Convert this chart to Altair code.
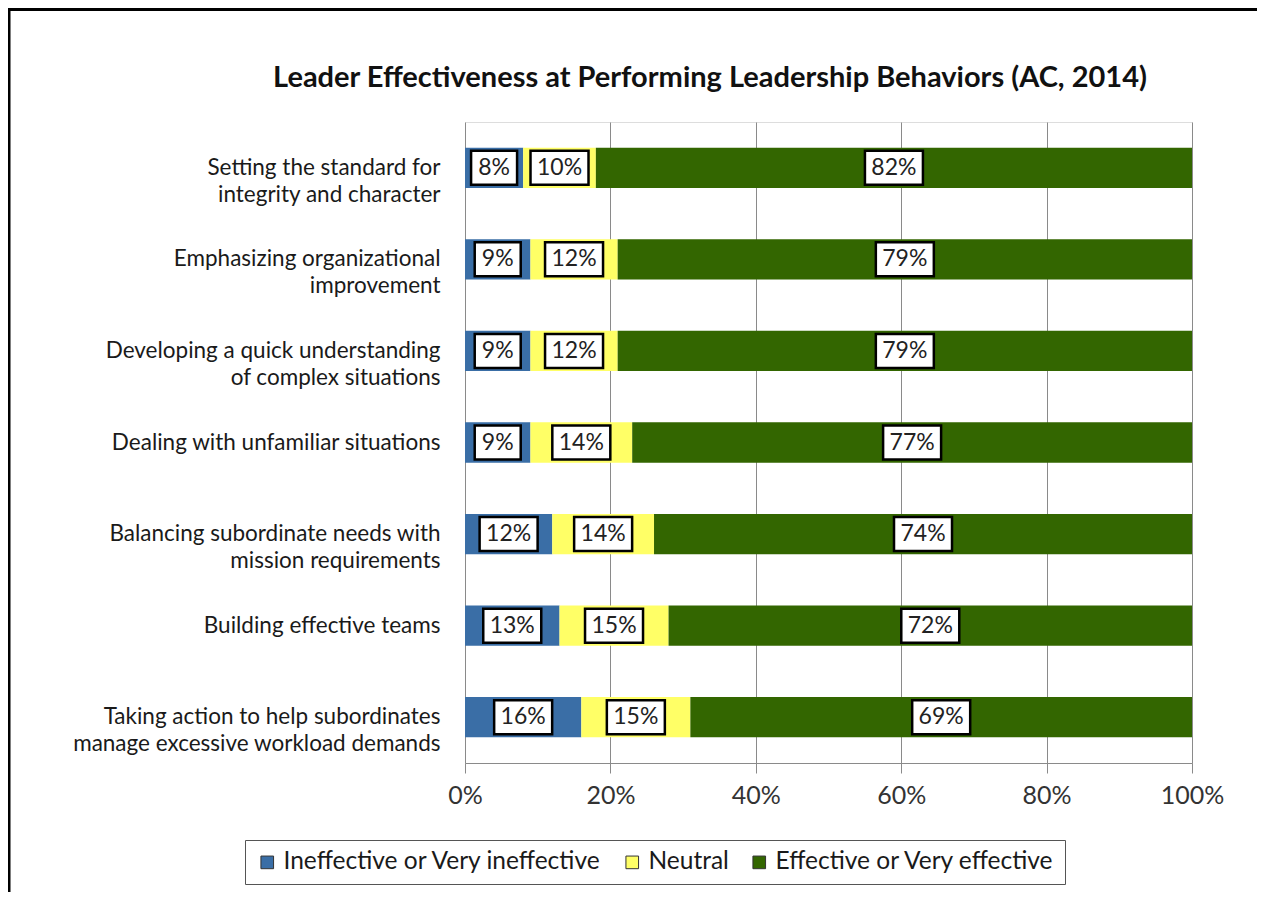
import altair as alt
import pandas as pd

categories = [
    "Setting the standard for|integrity and character",
    "Emphasizing organizational|improvement",
    "Developing a quick understanding|of complex situations",
    "Dealing with unfamiliar situations",
    "Balancing subordinate needs with|mission requirements",
    "Building effective teams",
    "Taking action to help subordinates|manage excessive workload demands",
]
ineffective = [8, 9, 9, 9, 12, 13, 16]
neutral = [10, 12, 12, 14, 14, 15, 15]
effective = [82, 79, 79, 77, 74, 72, 69]
series = ["Ineffective or Very ineffective", "Neutral", "Effective or Very effective"]
colors = ["#3A6EA6", "#FFFF66", "#336600"]
x_ticks = [0, 20, 40, 60, 80, 100]
title_text = "Leader Effectiveness at Performing Leadership Behaviors (AC, 2014)"

FONT = "Lato"

rows = []
for i, cat in enumerate(categories):
    vals = [ineffective[i], neutral[i], effective[i]]
    start = 0
    for k, (s, v) in enumerate(zip(series, vals)):
        rows.append({
            "cat": cat, "series": s, "order": k, "value": v,
            "start": start, "end": start + v, "mid": start + v / 2,
            "label": f"{v}%", "box": "s" if v < 10 else "w",
        })
        start += v
df = pd.DataFrame(rows)

box_s = "M-23,-17L23,-17L23,17L-23,17Z"
box_w = "M-29,-17L29,-17L29,17L-29,17Z"

yenc = alt.Y(
    "cat:N", sort=categories,
    scale=alt.Scale(paddingInner=0.56, paddingOuter=0.28),
    axis=alt.Axis(
        title=None, labelExpr="split(datum.label, '|')", ticks=False, domain=False,
        labelFontSize=22.5, labelFont=FONT, labelColor="#1a1a1a", labelPadding=25,
        labelLineHeight=27, labelLimit=500,
    ),
)
xscale = alt.Scale(domain=[0, 100], nice=False)

bars = alt.Chart(df).mark_bar().encode(
    x=alt.X(
        "start:Q", scale=xscale,
        axis=alt.Axis(
            title=None, values=x_ticks, labelExpr="datum.value + '%'", labelFlush=False,
            grid=True, gridColor="#8a8a8a", gridWidth=1,
            tickColor="#8a8a8a", tickSize=10, domainColor="#8a8a8a",
            labelFontSize=25, labelFont=FONT, labelColor="#333333", labelPadding=10,
        ),
    ),
    x2="end:Q",
    y=yenc,
    color=alt.Color(
        "series:N",
        scale=alt.Scale(domain=series, range=colors),
        legend=alt.Legend(
            orient="none", legendX=-220, legendY=718, direction="horizontal",
            title=None, strokeColor="#555555", fillColor="white", padding=10,
            labelFontSize=24.5, labelFont=FONT, labelColor="#1a1a1a",
            symbolType="square", symbolSize=160, symbolStrokeColor="#333333",
            symbolStrokeWidth=1, symbolOpacity=1, columnPadding=18, labelOffset=4,
            labelLimit=500,
        ),
    ),
    order=alt.Order("order:Q"),
)

boxes = alt.Chart(df).mark_point(
    filled=True, fill="white", stroke="black", strokeWidth=2.5, opacity=1, size=4
).encode(
    x=alt.X("mid:Q", scale=xscale),
    y=alt.Y("cat:N", sort=categories),
    shape=alt.Shape("box:N", scale=alt.Scale(domain=["s", "w"], range=[box_s, box_w]), legend=None),
)

texts = alt.Chart(df).mark_text(fontSize=23, font=FONT, color="#222222").encode(
    x=alt.X("mid:Q", scale=xscale),
    y=alt.Y("cat:N", sort=categories),
    text="label:N",
)

one = alt.Data(values=[{"a": 1}])
border_left = alt.Chart(one).mark_rule(color="black", strokeWidth=3).encode(
    x=alt.value(-456), y=alt.value(-114), y2=alt.value(900)
)
border_top = alt.Chart(one).mark_rule(color="black", strokeWidth=3).encode(
    x=alt.value(-458), x2=alt.value(900), y=alt.value(-112.5)
)

title = alt.Chart(one).mark_text(
    text=title_text, fontSize=29, fontWeight="bold", font=FONT, color="#111111",
    align="center", baseline="middle",
).encode(x=alt.value(245), y=alt.value(-44))

chart = alt.layer(border_left, border_top, bars, boxes, texts, title).properties(
    width=727, height=641,
    autosize=alt.AutoSizeParams(type="none"),
    padding={"left": 457, "top": 114, "right": 65, "bottom": 129},
).configure_view(stroke="#8a8a8a", strokeWidth=1).configure(background="white")

chart.save("out.html", embed_options={"renderer": "svg", "actions": False})
